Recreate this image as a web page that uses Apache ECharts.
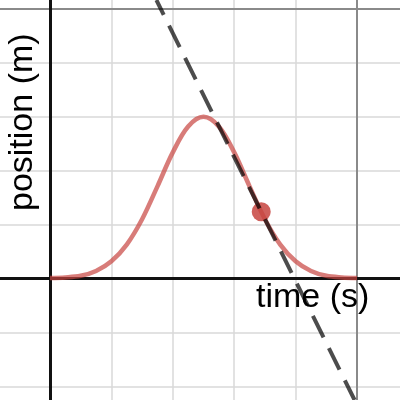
<!DOCTYPE html>
<html>
<head>
<meta charset="utf-8">
<script src="https://cdn.jsdelivr.net/npm/echarts@6/dist/echarts.min.js"></script>
<style>
  html, body { margin: 0; padding: 0; background: #fff; }
  #chart { width: 400px; height: 400px; }
</style>
</head>
<body>
<div id="chart"></div>
<script>
// view window (graph units)
var xMin = -0.814, xMax = 5.70
var yMin = -2.254, yMax = 5.167

// grid lines
var minorX = [1, 2, 3, 4]
var majorX = [5]
var minorY = [-2, -1, 1, 2, 3, 4]
var majorY = [5]

// position curve
var curveX = [0, 0.25, 0.5, 0.75, 1, 1.25, 1.5, 1.75, 2, 2.25, 2.5,
              2.75, 3, 3.25, 3.5, 3.75, 4, 4.25, 4.5, 4.75, 5]
var curveY = [0.01, 0.02, 0.05, 0.14, 0.32, 0.63, 1.10, 1.71, 2.34, 2.82, 3.00,
              2.82, 2.34, 1.71, 1.10, 0.63, 0.32, 0.14, 0.05, 0.02, 0.01]

// point of tangency and the tangent line
var pointXY = [3.44, 1.24]
var tangentX = [1.733, 4.96]
var tangentY = [5.167, -2.254]

function vLines(list) {
    return list.map(function (v) { return { xAxis: v } })
}
function hLines(list) {
    return list.map(function (v) { return { yAxis: v } })
}
function zip(xs, ys) {
    return xs.map(function (x, i) { return [x, ys[i]] })
}
function gridSeries(data, color, width, z) {
    return {
        type: 'line',
        data: [],
        z: z,
        silent: true,
        markLine: {
            silent: true,
            symbol: 'none',
            animation: false,
            label: { show: false },
            lineStyle: { color: color, width: width, type: 'solid' },
            data: data
        }
    }
}

var chart = echarts.init(document.getElementById('chart'))
var options = {
    animation: false,
    grid: { left: 0, right: 0, top: 0, bottom: 0 },
    xAxis: {
        type: 'value', min: xMin, max: xMax,
        axisLine: { show: false }, axisTick: { show: false },
        axisLabel: { show: false }, splitLine: { show: false }
    },
    yAxis: {
        type: 'value', min: yMin, max: yMax,
        axisLine: { show: false }, axisTick: { show: false },
        axisLabel: { show: false }, splitLine: { show: false }
    },
    graphic: [{
        type: 'text',
        left: 256, top: 281,
        z: 100,
        style: { text: 'time (s)', font: '34px "Liberation Sans", Arial, sans-serif', fill: '#000' }
    }, {
        type: 'text',
        x: 6, y: 211,
        rotation: Math.PI / 2,
        z: 100,
        style: { text: 'position (m)', font: '34px "Liberation Sans", Arial, sans-serif', fill: '#000' }
    }],
    series: [
        gridSeries(vLines(minorX).concat(hLines(minorY)), '#d8d8d8', 1.5, 1),
        gridSeries(vLines(majorX).concat(hLines(majorY)), '#8a8a8a', 2, 2),
        gridSeries([{ xAxis: 0 }, { yAxis: 0 }], '#111', 3, 3),
        {
            name: 'position',
            type: 'line',
            z: 5,
            data: zip(curveX, curveY),
            smooth: 0.35,
            showSymbol: false,
            lineStyle: { color: '#c74440', width: 4.5, opacity: 0.7 }
        },
        {
            type: 'scatter',
            z: 6,
            data: [pointXY],
            symbolSize: 19,
            itemStyle: { color: '#c74440', opacity: 0.85 }
        },
        {
            name: 'tangent',
            type: 'line',
            z: 7,
            data: zip(tangentX, tangentY),
            showSymbol: false,
            lineStyle: { color: '#000', width: 4, opacity: 0.7, type: [24, 12], dashOffset: 7.5 }
        }
    ]
}
chart.setOption(options)
</script>
</body>
</html>
